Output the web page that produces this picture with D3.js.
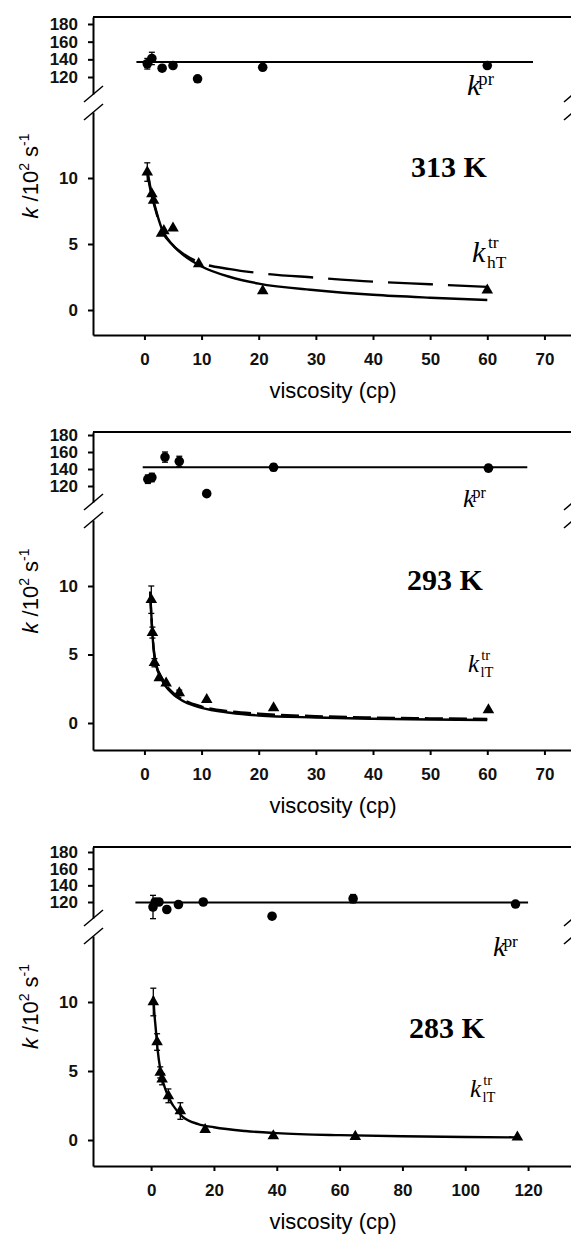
<!DOCTYPE html>
<html><head><meta charset="utf-8">
<script src="https://cdn.jsdelivr.net/npm/d3@7"></script>
<style>body{margin:0;background:#fff}svg{display:block}</style>
</head><body>
<svg id="c" width="571" height="1236"></svg>
<script>
// ---------- data ----------
const temperatures = ["313 K", "293 K", "283 K"];
const trSubscripts = ["hT", "lT", "lT"];
const xTicksA = [0, 10, 20, 30, 40, 50, 60, 70];
const xTicksB = [0, 20, 40, 60, 80, 100, 120];
const yTicksUpper = [120, 140, 160, 180];
const yTicksLower = [0, 5, 10];
const xTitle = "viscosity (cp)";

// horizontal k_pr level and its extent in viscosity
const prLevel = [137, 142, 119.5];
const prExtent = [[-1.4, 68], [-0.3, 67], [-5, 120]];

// [viscosity, k, error]
const pr313 = [[0.5,135,6],[1.3,141,7],[3.1,130,0],[5,133,0],[9.3,118,0],[20.7,131,0],[60,133,0]];
const pr293 = [[0.6,128,5],[1.3,130,5],[3.6,154,6],[6.1,149,6],[10.9,111,0],[22.6,142,4],[60.2,141,4]];
const pr283 = [[0.6,114,14],[1.3,120,0],[2.5,120,0],[5,111,0],[8.7,117,0],[16.6,120,0],[38.5,103,0],[64.3,124,5],[116,117.5,0]];

const tr313 = [[0.5,10.45,0.7],[1.3,8.8,0],[1.6,8.3,0],[3,5.8,0],[3.4,6.0,0],[5,6.2,0],[9.5,3.5,0],[20.7,1.45,0],[60,1.5,0]];
const tr293 = [[1.2,9.0,1.0],[1.4,6.6,0.4],[1.75,4.4,0.3],[2.6,3.3,0],[3.8,2.9,0],[6.1,2.2,0.2],[10.9,1.7,0],[22.6,1.1,0],[60.2,0.95,0]];
const tr283 = [[0.7,10.0,1.0],[1.9,7.1,0.6],[2.9,4.9,0.4],[3.5,4.4,0.4],[5.5,3.2,0.5],[9.3,2.1,0.6],[17.2,0.75,0],[38.9,0.3,0],[65,0.25,0],[116.6,0.2,0]];

const fitSolid313 = [[0.5,10.6],[1,9.4],[2,7.6],[3,6.2],[5,4.9],[7,4.1],[10,3.3],[15,2.5],[20,2.0],[30,1.5],[40,1.15],[50,0.93],[60,0.76]];
const fitDash313  = [[0.5,10.4],[1,9.2],[2,7.5],[3,6.1],[5,4.9],[7,4.2],[10,3.55],[15,3.1],[20,2.8],[30,2.45],[40,2.15],[50,1.95],[60,1.75]];
const fitSolid293 = [[1,9.6],[1.3,7.2],[1.6,5.4],[2,4.3],[3,3.2],[5,2.1],[7,1.55],[10,1.1],[15,0.75],[20,0.55],[30,0.4],[40,0.31],[50,0.26],[60,0.22]];
const fitDash293  = [[1,9.4],[1.3,7.2],[1.6,5.5],[2,4.4],[3,3.3],[5,2.2],[7,1.65],[10,1.2],[15,0.85],[20,0.68],[30,0.5],[40,0.4],[50,0.34],[60,0.3]];
const fitSolid283 = [[0.7,10.4],[1,9.3],[1.5,8.0],[2,6.7],[3,5.0],[5,3.4],[7,2.5],[10,1.7],[15,1.15],[20,0.92],[30,0.65],[40,0.5],[60,0.35],[80,0.27],[100,0.22],[116,0.19]];

const prData = [pr313, pr293, pr283];
const trData = [tr313, tr293, tr283];
const solidFits = [fitSolid313, fitSolid293, fitSolid283];
const dashFits = [fitDash313, fitDash293, null];
const xTickSets = [xTicksA, xTicksA, xTicksB];

// ---------- layout (pixels) ----------
const layout = [
  {top:17, upper:[77,24], brk:[94,112], lower:[310,178], bottom:335, xd:[-9,75],
   temp:[449,177], kpr:[467,95,30], ktr:[472,262,30]},
  {top:432, upper:[486,435], brk:[502,520], lower:[723,586], bottom:750, xd:[-9,75],
   temp:[445,590], kpr:[463,507,26], ktr:[468,672,25]},
  {top:847, upper:[902,852], brk:[918,936], lower:[1140,1002], bottom:1166, xd:[-18.5,134.3],
   temp:[447,1038], kpr:[493,956,28], ktr:[470,1097,25]}
];
const X0 = 93, X1 = 573;
const sans = "'Liberation Sans', Arial, sans-serif";
const serif = "'Liberation Serif', 'Times New Roman', serif";

const svg = d3.select("#c");

layout.forEach((L, i) => {
  const g = svg.append("g");
  const x = d3.scaleLinear().domain(L.xd).range([X0, X1]);
  const yUbase = d3.scaleLinear().domain([120, 180]).range(L.upper);
  const yU = d3.scaleLinear().domain([yUbase.invert(L.brk[0]), yUbase.invert(L.top)]).range([L.brk[0], L.top]);
  const yLbase = d3.scaleLinear().domain([0, 10]).range(L.lower);
  const yL = d3.scaleLinear().domain([yLbase.invert(L.bottom), yLbase.invert(L.brk[1])]).range([L.bottom, L.brk[1]]);

  // axes
  const styleAxis = sel => {
    sel.selectAll("path,line").attr("stroke", "#000").attr("stroke-width", 2);
    sel.selectAll("text").attr("font-family", sans).attr("font-weight", "bold").attr("font-size", 17).attr("fill", "#111");
  };
  g.append("g").attr("transform", `translate(${X0},0)`)
    .call(d3.axisLeft(yU).tickValues(yTicksUpper).tickSize(5).tickSizeOuter(0).tickPadding(10)).call(styleAxis);
  g.append("g").attr("transform", `translate(${X0},0)`)
    .call(d3.axisLeft(yL).tickValues(yTicksLower).tickSize(5).tickSizeOuter(0).tickPadding(10)).call(styleAxis);
  g.append("g").attr("transform", `translate(0,${L.bottom})`)
    .call(d3.axisBottom(x).tickValues(xTickSets[i]).tickSize(5).tickSizeOuter(0).tickPadding(13)).call(styleAxis);
  // top frame
  g.append("line").attr("x1", X0).attr("x2", X1).attr("y1", L.top).attr("y2", L.top)
    .attr("stroke", "#000").attr("stroke-width", 2);
  // break marks
  [X0, X1].forEach(xx => {
    L.brk.forEach(c => {
      g.append("line").attr("x1", xx - 9).attr("y1", c + 8).attr("x2", xx + 10).attr("y2", c - 8)
        .attr("stroke", "#000").attr("stroke-width", 1.5);
    });
  });

  // k_pr horizontal line
  g.append("line")
    .attr("x1", x(prExtent[i][0])).attr("x2", x(prExtent[i][1]))
    .attr("y1", yU(prLevel[i])).attr("y2", yU(prLevel[i]))
    .attr("stroke", "#000").attr("stroke-width", 2);

  // fits
  const lineL = d3.line().x(d => x(d[0])).y(d => yL(d[1])).curve(d3.curveMonotoneX);
  g.append("path").attr("d", lineL(solidFits[i])).attr("fill", "none").attr("stroke", "#000").attr("stroke-width", 2.4);
  if (dashFits[i]) {
    g.append("path").attr("d", lineL(dashFits[i])).attr("fill", "none").attr("stroke", "#000")
      .attr("stroke-width", 2.4).attr("stroke-dasharray", i === 0 ? "45,15" : "18,6");
  }

  // error bars
  const err = (data, y) => {
    data.filter(d => d[2] > 0).forEach(d => {
      const xx = x(d[0]);
      g.append("line").attr("x1", xx).attr("x2", xx).attr("y1", y(d[1] - d[2])).attr("y2", y(d[1] + d[2]))
        .attr("stroke", "#000").attr("stroke-width", 1.3);
      [d[1] - d[2], d[1] + d[2]].forEach(v => {
        g.append("line").attr("x1", xx - 3).attr("x2", xx + 3).attr("y1", y(v)).attr("y2", y(v))
          .attr("stroke", "#000").attr("stroke-width", 1.3);
      });
    });
  };
  err(prData[i], yU);
  err(trData[i], yL);

  // markers
  g.selectAll(".pr").data(prData[i]).join("path")
    .attr("transform", d => `translate(${x(d[0])},${yU(d[1])})`)
    .attr("d", d3.symbol(d3.symbolCircle, 72)).attr("fill", "#000");
  g.selectAll(".tr").data(trData[i]).join("path")
    .attr("transform", d => `translate(${x(d[0])},${yL(d[1])})`)
    .attr("d", d3.symbol(d3.symbolTriangle, 58)).attr("fill", "#000");

  // temperature label
  g.append("text").attr("x", L.temp[0]).attr("y", L.temp[1]).attr("text-anchor", "middle")
    .attr("font-family", serif).attr("font-weight", "bold").attr("font-size", 30).text(temperatures[i]);

  // k^pr label
  const kp = g.append("text").attr("x", L.kpr[0]).attr("y", L.kpr[1]).attr("font-family", serif).attr("font-size", L.kpr[2]);
  kp.append("tspan").attr("font-style", "italic").text("k");
  kp.append("tspan").attr("font-size", L.kpr[2] * 0.62).attr("dx", -2).attr("dy", -L.kpr[2] * 0.33).text("pr");

  // k^tr_xT label
  const kx = L.ktr[0], ky = L.ktr[1], ks = L.ktr[2];
  g.append("text").attr("x", kx).attr("y", ky).attr("font-family", serif).attr("font-style", "italic")
    .attr("font-size", ks).text("k");
  g.append("text").attr("x", kx + ks * 0.53).attr("y", ky - ks * 0.47).attr("font-family", serif)
    .attr("font-size", ks * 0.58).text("tr");
  g.append("text").attr("x", kx + ks * 0.5).attr("y", ky + ks * 0.2).attr("font-family", serif)
    .attr("font-size", ks * 0.58).text(trSubscripts[i]);

  // y axis title
  const yc = (L.top + L.bottom) / 2;
  const yt = g.append("text").attr("transform", `translate(38,${yc}) rotate(-90)`)
    .attr("text-anchor", "middle").attr("font-family", sans).attr("font-size", 22);
  yt.append("tspan").attr("font-style", "italic").text("k");
  yt.append("tspan").text(" /10");
  yt.append("tspan").attr("font-size", 14).attr("dy", -9).text("2");
  yt.append("tspan").attr("dy", 9).text(" s");
  yt.append("tspan").attr("font-size", 14).attr("dy", -9).text("-1");

  // x title
  g.append("text").attr("x", 333).attr("y", L.bottom + 63).attr("text-anchor", "middle")
    .attr("font-family", sans).attr("font-size", 22).text(xTitle);
});
</script>
</body></html>
